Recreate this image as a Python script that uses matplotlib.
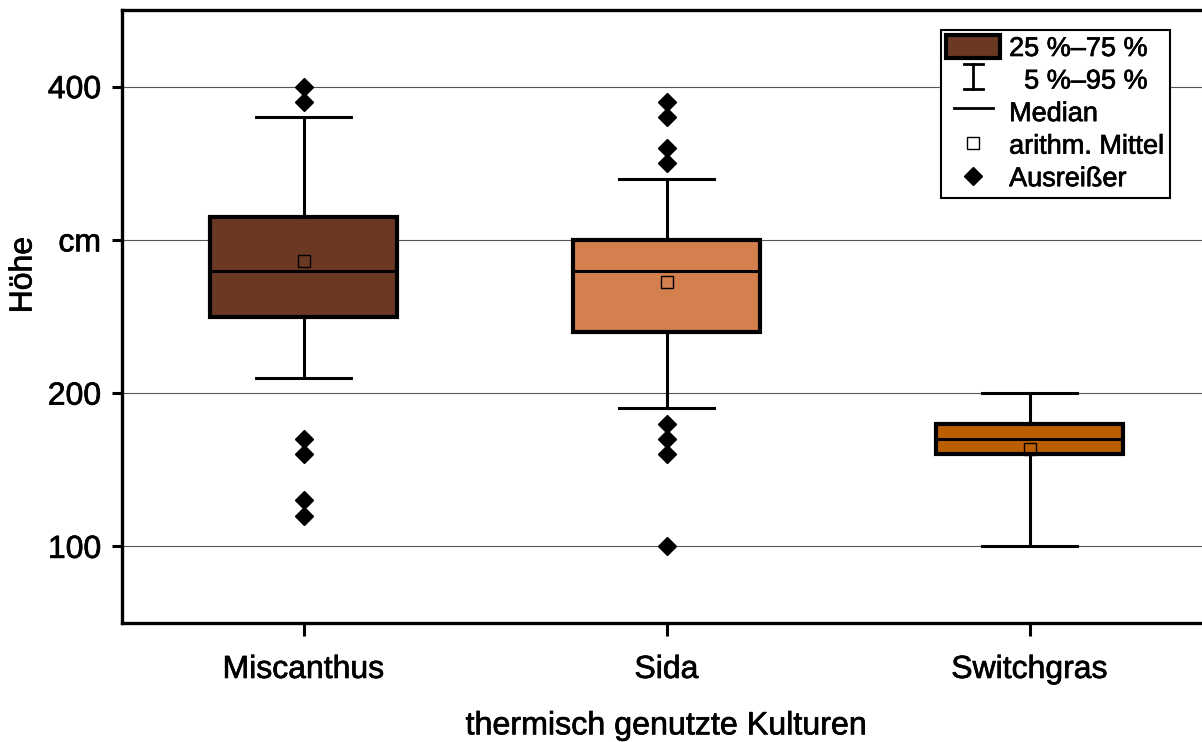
import matplotlib
matplotlib.use("Agg")
import matplotlib.pyplot as plt
import matplotlib.patheffects as pe
from matplotlib.patches import Patch
from matplotlib.lines import Line2D
from matplotlib.legend_handler import HandlerBase

plt.rcParams['font.family'] = ['Liberation Sans', 'DejaVu Sans']

# Kennwerte je Kultur (cm)
kulturen = ['Miscanthus', 'Sida', 'Switchgras']
q1 = [250, 240, 160]
median = [280, 280, 170]
q3 = [315, 300, 180]
p5 = [210, 190, 100]
p95 = [380, 340, 200]
mittel = [286, 272.5, 163.5]
ausreisser = [
    [400, 390, 170, 160, 130, 120],
    [390, 380, 360, 350, 180, 170, 160, 100],
    [],
]
farben = ['#6b3824', '#d3804e', '#bb5e00']

yticks = [100, 200, 300, 400]
ytick_labels = ['100', '200', 'cm', '400']

stats = []
for i, name in enumerate(kulturen):
    stats.append(dict(label=name, q1=q1[i], med=median[i], q3=q3[i],
                      whislo=p5[i], whishi=p95[i], mean=mittel[i],
                      fliers=ausreisser[i]))

fig = plt.figure(figsize=(12.02, 7.42), dpi=100)
ax = fig.add_axes([122 / 1202, 1 - 623 / 742, 1089 / 1202, 613 / 742])

pos = [1, 2, 3]
bp = ax.bxp(stats, positions=pos, widths=0.515, capwidths=0.26,
            patch_artist=True, showmeans=True, showfliers=True,
            boxprops=dict(linewidth=3, edgecolor='black'),
            whiskerprops=dict(linewidth=2.2, color='black'),
            capprops=dict(linewidth=2.2, color='black'),
            medianprops=dict(linewidth=2.2, color='black'),
            meanprops=dict(marker='s', markersize=9, markerfacecolor='none',
                           markeredgecolor='black', markeredgewidth=1.0),
            flierprops=dict(marker='D', markersize=9, markerfacecolor='black',
                            markeredgecolor='black'),
            zorder=3)
for box, c in zip(bp['boxes'], farben):
    box.set_facecolor(c)

ax.set_xlim(0.5, 3.5)
ax.set_ylim(50, 450)
ax.set_yticks(yticks)
ax.set_yticklabels(ytick_labels)
ax.set_xticks(pos)
ax.set_xticklabels(kulturen)
ax.yaxis.grid(True, color='#555555', linewidth=0.8)
ax.set_axisbelow(True)

for s in ['left', 'bottom', 'top']:
    ax.spines[s].set_linewidth(2.4)
ax.spines['right'].set_visible(False)
ax.tick_params(axis='y', direction='out', length=7, width=2.2,
               labelsize=23, pad=8)
ax.tick_params(axis='x', direction='out', length=9, width=2.2,
               labelsize=23, pad=14)

ax.set_xlabel('thermisch genutzte Kulturen', fontsize=23.2, labelpad=19)
ax.set_ylabel('Höhe', fontsize=23, va='center')
ax.yaxis.set_label_coords((23.5 - 122) / 1089, (623 - 275) / 613)


class HandlerWhisker(HandlerBase):
    def create_artists(self, legend, orig, xd, yd, w, h, fontsize, trans):
        cx = xd + w / 2
        hw = w * 0.18
        top = yd + h * 1.0
        bot = yd - h * 0.1
        return [
            Line2D([cx, cx], [bot, top], color='black', lw=2, transform=trans),
            Line2D([cx - hw, cx + hw], [top, top], color='black', lw=2, transform=trans),
            Line2D([cx - hw, cx + hw], [bot, bot], color='black', lw=2, transform=trans),
        ]


class HandlerMedian(HandlerBase):
    def create_artists(self, legend, orig, xd, yd, w, h, fontsize, trans):
        cy = yd + h / 2
        return [Line2D([xd + w * 0.14, xd + w * 0.86], [cy, cy], color='black',
                       lw=2, transform=trans)]


h_box = Patch(facecolor=farben[0], edgecolor='black', linewidth=3)
h_whisk = Line2D([], [])
h_med = Line2D([], [], color='black')
h_mean = Line2D([], [], linestyle='none', marker='s', markersize=9,
                markerfacecolor='white', markeredgecolor='black', markeredgewidth=1)
h_out = Line2D([], [], linestyle='none', marker='D', markersize=9,
               markerfacecolor='black', markeredgecolor='black')

leg = ax.legend([h_box, h_whisk, h_med, h_mean, h_out],
                ['25 %–75 %', '  5 %–95 %', 'Median', 'arithm. Mittel', 'Ausreißer'],
                handler_map={h_whisk: HandlerWhisker(), h_med: HandlerMedian()},
                loc='upper right', bbox_to_anchor=((1170 - 122) / 1089, (623 - 30) / 613),
                fontsize=19.5, frameon=True, fancybox=False, edgecolor='black',
                framealpha=1, borderpad=0.2, labelspacing=0.22, handlelength=2.0,
                handleheight=0.9, handletextpad=0.32, borderaxespad=0)
leg.get_frame().set_linewidth(1.5)

# etwas kraeftigere Schrift
stroke = [pe.withStroke(linewidth=0.5, foreground='black')]
for t in (ax.get_xticklabels() + ax.get_yticklabels() + leg.get_texts()
          + [ax.xaxis.label, ax.yaxis.label]):
    t.set_path_effects(stroke)

fig.savefig('out.png', dpi=100)
